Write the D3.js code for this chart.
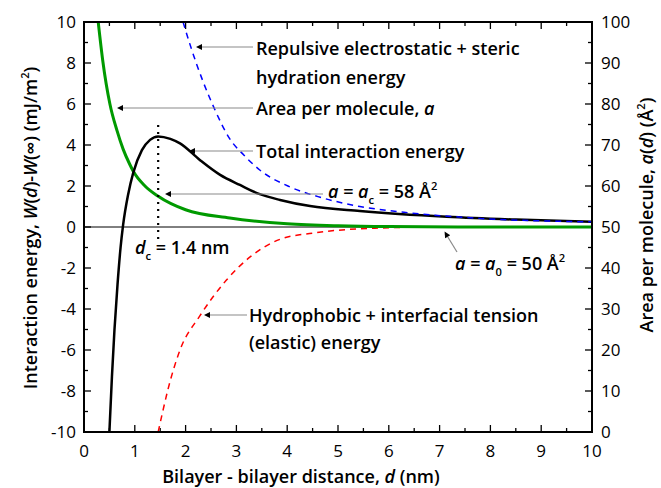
<!DOCTYPE html>
<html>
<head>
<meta charset="utf-8">
<script src="https://cdn.jsdelivr.net/npm/d3@7"></script>
<style>
  body { margin: 0; background: #fff; }
  svg { font-family: "Open Sans", "Noto Sans", sans-serif; }
</style>
</head>
<body>
<svg id="chart" width="661" height="488"></svg>
<script>
// values (d in nm, W in mJ/m^2, area in A^2)
const totalD = [0.5, 0.55, 0.6, 0.66, 0.72, 0.77, 0.87, 0.97, 1.14, 1.3, 1.46, 1.7, 1.89, 2.28, 2.68, 3.07, 3.46, 3.86, 4.45, 5.43, 7.14, 8.5, 10];
const totalW = [-10, -7.3, -5, -2.8, -1.0, 0.1, 1.6, 2.65, 3.75, 4.25, 4.42, 4.3, 4.08, 3.27, 2.54, 2.05, 1.6, 1.32, 1.02, 0.78, 0.5, 0.36, 0.25];

const repulsiveD = [1.95, 2.1, 2.58, 2.87, 3.15, 3.46, 4.06, 4.65, 5.43, 6.3, 7.8, 10];
const repulsiveW = [10, 8.8, 5.7, 4.3, 3.5, 2.78, 1.95, 1.45, 1.0, 0.72, 0.42, 0.25];

const hydrophobicD = [1.46, 1.55, 1.65, 1.89, 2.28, 2.8, 3.27, 3.86, 4.5, 5.2, 5.83, 6.75, 10];
const hydrophobicW = [-10, -9, -7.95, -6, -4.34, -2.6, -1.46, -0.6, -0.3, -0.12, -0.05, 0, 0];

const areaD = [0.28, 0.37, 0.51, 0.65, 0.77, 0.9, 0.97, 1.2, 1.46, 2.0, 2.87, 4.0, 5.0, 6.0, 8.0, 10];
const areaA = [100, 90.5, 80, 73.5, 69, 65.3, 63.6, 60, 57.5, 54.2, 52.2, 50.8, 50.3, 50.1, 50, 50];

const xTicks = [0, 1, 2, 3, 4, 5, 6, 7, 8, 9, 10];
const yTicks = [-10, -8, -6, -4, -2, 0, 2, 4, 6, 8, 10];
const areaTicks = [0, 10, 20, 30, 40, 50, 60, 70, 80, 90, 100];

const dCritical = 1.46;

const svg = d3.select("#chart");
const m = { left: 84, right: 592, top: 22, bottom: 432 };

const x = d3.scaleLinear().domain([0, 10]).range([m.left, m.right]);
const y = d3.scaleLinear().domain([-10, 10]).range([m.bottom, m.top]);
const yArea = d3.scaleLinear().domain([0, 100]).range([m.bottom, m.top]);

const defs = svg.append("defs");
defs.append("clipPath").attr("id", "plot")
  .append("rect").attr("x", m.left).attr("y", m.top).attr("width", m.right - m.left).attr("height", m.bottom - m.top);

defs.append("marker")
  .attr("id", "head").attr("viewBox", "0 0 10 10").attr("refX", 0).attr("refY", 5)
  .attr("markerWidth", 9).attr("markerHeight", 6).attr("markerUnits", "userSpaceOnUse")
  .attr("orient", "auto")
  .append("path").attr("d", "M0,0 L10,5 L0,10 Z").attr("fill", "#000");

// zero line
svg.append("line").attr("x1", m.left).attr("x2", m.right).attr("y1", y(0)).attr("y2", y(0))
  .attr("stroke", "#000").attr("stroke-width", 1);

// ticks (inward, on all four sides)
const tickLen = 7, minorLen = 4;
const g = svg.append("g").attr("stroke", "#000").attr("stroke-width", 1.3);
d3.range(0, 10.01, 0.5).forEach(v => {
  const len = (v % 1 === 0) ? tickLen : minorLen;
  g.append("line").attr("x1", x(v)).attr("x2", x(v)).attr("y1", m.bottom).attr("y2", m.bottom - len);
  g.append("line").attr("x1", x(v)).attr("x2", x(v)).attr("y1", m.top).attr("y2", m.top + len);
});
d3.range(-10, 10.01, 1).forEach(v => {
  const len = (v % 2 === 0) ? tickLen : minorLen;
  g.append("line").attr("x1", m.left).attr("x2", m.left + len).attr("y1", y(v)).attr("y2", y(v));
});
d3.range(0, 100.01, 5).forEach(v => {
  const len = (v % 10 === 0) ? tickLen : minorLen;
  g.append("line").attr("x1", m.right).attr("x2", m.right - len).attr("y1", yArea(v)).attr("y2", yArea(v));
});

// tick labels
const labels = svg.append("g").attr("font-size", 17).attr("fill", "#000");
xTicks.forEach(v => labels.append("text").attr("x", x(v)).attr("y", 457).attr("text-anchor", "middle").text(v));
yTicks.forEach(v => labels.append("text").attr("x", 76).attr("y", y(v) + 6).attr("text-anchor", "end").text(v));
areaTicks.forEach(v => labels.append("text").attr("x", 601).attr("y", yArea(v) + 6).attr("text-anchor", "start").text(v));

// curves
const plot = svg.append("g").attr("clip-path", "url(#plot)");
const line = d3.line().curve(d3.curveMonotoneX);

plot.append("path")
  .attr("d", line(hydrophobicD.map((d, i) => [x(d), y(hydrophobicW[i])])))
  .attr("fill", "none").attr("stroke", "#ff0000").attr("stroke-width", 1.5).attr("stroke-dasharray", "6,5");

plot.append("path")
  .attr("d", line(areaD.map((d, i) => [x(d), yArea(areaA[i])])))
  .attr("fill", "none").attr("stroke", "#009a00").attr("stroke-width", 3);

plot.append("path")
  .attr("d", line(totalD.map((d, i) => [x(d), y(totalW[i])])))
  .attr("fill", "none").attr("stroke", "#000").attr("stroke-width", 2.5);

plot.append("path")
  .attr("d", line(repulsiveD.map((d, i) => [x(d), y(repulsiveW[i])])))
  .attr("fill", "none").attr("stroke", "#0000ff").attr("stroke-width", 1.5).attr("stroke-dasharray", "6,5");

// dotted marker at d_c
svg.append("line").attr("x1", x(dCritical)).attr("x2", x(dCritical)).attr("y1", 125).attr("y2", 240)
  .attr("stroke", "#000").attr("stroke-width", 2.2).attr("stroke-dasharray", "2,5");

// frame
svg.append("rect").attr("x", m.left).attr("y", m.top).attr("width", m.right - m.left).attr("height", m.bottom - m.top)
  .attr("fill", "none").attr("stroke", "#000").attr("stroke-width", 2);

// annotation arrows
const arrows = [
  [253, 47, 193, 47],
  [253, 108, 114, 108],
  [253, 151, 186, 151],
  [323, 194, 162, 194],
  [457, 252, 443, 229],
  [247, 315, 201, 315]
];
arrows.forEach(a => {
  const len = Math.hypot(a[2] - a[0], a[3] - a[1]);
  const ux = (a[2] - a[0]) / len, uy = (a[3] - a[1]) / len;
  svg.append("line").attr("x1", a[0]).attr("y1", a[1]).attr("x2", a[2] - ux * 9).attr("y2", a[3] - uy * 9)
    .attr("stroke", "#8a8a8a").attr("stroke-width", 1.2).attr("marker-end", "url(#head)");
});

// rich text helper: parts = [text, style] with style in "", "i", "sub", "sup"
function richText(parent, px, py, parts, size) {
  const t = parent.append("text").attr("x", px).attr("y", py).attr("font-size", size)
    .attr("font-weight", 600).attr("fill", "#000");
  let shift = 0;
  parts.forEach(([s, style]) => {
    const target = style === "sub" ? size * 0.35 : style === "sup" ? -size * 0.45 : 0;
    const ts = t.append("tspan").attr("dy", target - shift).text(s);
    if (style === "i") ts.attr("font-style", "italic");
    if (style === "sub" || style === "sup") ts.attr("font-size", size * 0.62);
    shift = target;
  });
  return t;
}

const fs = 18;
richText(svg, 256, 55, [["Repulsive electrostatic + steric", ""]], fs);
richText(svg, 256, 84, [["hydration energy", ""]], fs);
richText(svg, 256, 115, [["Area per molecule, ", ""], ["a", "i"]], fs);
richText(svg, 256, 158, [["Total interaction energy", ""]], fs);
richText(svg, 328, 198, [["a", "i"], [" = ", ""], ["a", "i"], ["c", "sub"], [" = 58 Å", ""], ["2", "sup"]], fs);
richText(svg, 135, 254, [["d", "i"], ["c", "sub"], [" = 1.4 nm", ""]], fs);
richText(svg, 455, 270, [["a", "i"], [" = ", ""], ["a", "i"], ["0", "sub"], [" = 50 Å", ""], ["2", "sup"]], fs);
richText(svg, 249, 322, [["Hydrophobic + interfacial tension", ""]], fs);
richText(svg, 249, 349, [["(elastic) energy", ""]], fs);

// axis titles
const xt = richText(svg, 301, 483, [["Bilayer - bilayer distance, ", ""], ["d", "i"], [" (nm)", ""]], 18);
xt.attr("text-anchor", "middle");

const yl = svg.append("g").attr("transform", "translate(37,228) rotate(-90)");
richText(yl, 0, 0, [["Interaction energy, ", ""], ["W", "i"], ["(", ""], ["d", "i"], [")-", ""], ["W", "i"], ["(∞)  (mJ/m", ""], ["2", "sup"], [")", ""]], 18)
  .attr("text-anchor", "middle");

const yr = svg.append("g").attr("transform", "translate(653,215) rotate(-90)");
richText(yr, 0, 0, [["Area per molecule, ", ""], ["a", "i"], ["(", ""], ["d", "i"], [") (Å", ""], ["2", "sup"], [")", ""]], 18)
  .attr("text-anchor", "middle");
</script>
</body>
</html>
